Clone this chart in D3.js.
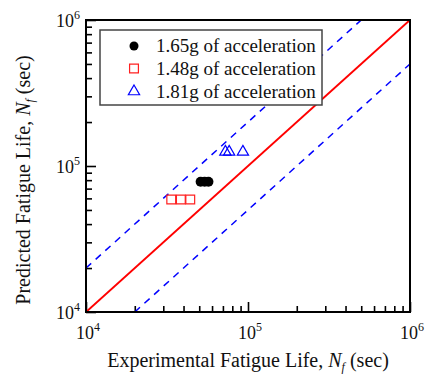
<html>
<head>
    <script src="https://d3js.org/d3.v7.min.js"></script>
    <style>
        body { margin: 0; background: #fff; }
        text { font-family: "Liberation Serif", "Times New Roman", serif; fill: #111; }
    </style>
</head>
<body>
    <svg id="chart" width="425" height="376"></svg>
    <script>
        // data
        const acc165X = [51000, 54000, 57000];
        const acc165Y = [78000, 78000, 78000];
        const acc148X = [33600, 38500, 44000];
        const acc148Y = [59000, 59000, 59000];
        const acc181X = [72500, 76500, 93000];
        const acc181Y = [125000, 125000, 125000];
        const majorTicks = [1e4, 1e5, 1e6];
        const tickExps = ["4", "5", "6"];
        const legendLabels = ["1.65g of acceleration", "1.48g of acceleration", "1.81g of acceleration"];
        const bandFactor = 2;

        const svg = d3.select("#chart");
        const margins = { top: 20, right: 15, bottom: 64, left: 86 };
        const chartWidth = 425 - margins.left - margins.right;
        const chartHeight = 376 - margins.top - margins.bottom;

        const x = d3.scaleLog().domain([1e4, 1e6]).range([0, chartWidth]);
        const y = d3.scaleLog().domain([1e4, 1e6]).range([chartHeight, 0]);

        const g = svg.append("g")
            .attr("transform", "translate(" + margins.left + "," + margins.top + ")");

        g.append("defs").append("clipPath").attr("id", "clip")
            .append("rect").attr("width", chartWidth).attr("height", chartHeight);

        let minorTicks = [];
        [1e4, 1e5].forEach(d => {
            for (let k = 2; k <= 9; k++) minorTicks.push(d * k);
        });

        // ticks (inward)
        g.append("g").attr("class", "x minor")
            .attr("transform", "translate(0," + chartHeight + ")")
            .call(d3.axisBottom(x).tickValues(minorTicks).tickSize(-6).tickFormat(""));
        g.append("g").attr("class", "x major")
            .attr("transform", "translate(0," + chartHeight + ")")
            .call(d3.axisBottom(x).tickValues(majorTicks).tickSize(-10).tickFormat(""));
        g.append("g").attr("class", "y minor")
            .call(d3.axisLeft(y).tickValues(minorTicks).tickSize(-6).tickFormat(""));
        g.append("g").attr("class", "y major")
            .call(d3.axisLeft(y).tickValues(majorTicks).tickSize(-10).tickFormat(""));
        g.selectAll(".domain").remove();
        g.selectAll(".tick line").attr("stroke", "#000").attr("stroke-width", 1.6);

        // tick labels
        majorTicks.forEach((d, i) => {
            let t = g.append("text")
                .attr("x", x(d) + 2)
                .attr("y", chartHeight + 27)
                .attr("text-anchor", "middle")
                .attr("font-size", 18);
            t.append("tspan").text("10");
            t.append("tspan").attr("font-size", 12).attr("dy", -8).text(tickExps[i]);

            let u = g.append("text")
                .attr("x", -6)
                .attr("y", y(d) + 7)
                .attr("text-anchor", "end")
                .attr("font-size", 18);
            u.append("tspan").text("10");
            u.append("tspan").attr("font-size", 12).attr("dy", -8).text(tickExps[i]);
        });

        const plot = g.append("g").attr("clip-path", "url(#clip)");

        // 1:1 line and factor-of-2 bands
        plot.append("line")
            .attr("x1", x(1e4)).attr("y1", y(1e4))
            .attr("x2", x(1e6)).attr("y2", y(1e6))
            .attr("stroke", "red").attr("stroke-width", 2);

        plot.append("line")
            .attr("x1", x(1e4)).attr("y1", y(1e4 * bandFactor))
            .attr("x2", x(1e6 / bandFactor)).attr("y2", y(1e6))
            .attr("stroke", "blue").attr("stroke-width", 1.5)
            .attr("stroke-dasharray", "7,6");

        plot.append("line")
            .attr("x1", x(1e4 * bandFactor)).attr("y1", y(1e4))
            .attr("x2", x(1e6)).attr("y2", y(1e6 / bandFactor))
            .attr("stroke", "blue").attr("stroke-width", 1.5)
            .attr("stroke-dasharray", "7,6");

        // frame
        g.append("rect")
            .attr("width", chartWidth).attr("height", chartHeight)
            .attr("fill", "none").attr("stroke", "#000").attr("stroke-width", 2);

        const sq = d3.symbol().type(d3.symbolSquare).size(78);
        const tri = d3.symbol().type(d3.symbolTriangle).size(55);

        acc148X.forEach((d, i) => {
            g.append("path").attr("d", sq)
                .attr("transform", "translate(" + x(d) + "," + y(acc148Y[i]) + ")")
                .attr("fill", "none").attr("stroke", "#ff2020").attr("stroke-width", 1.2);
        });

        acc181X.forEach((d, i) => {
            g.append("path").attr("d", tri)
                .attr("transform", "translate(" + x(d) + "," + y(acc181Y[i]) + ")")
                .attr("fill", "none").attr("stroke", "blue").attr("stroke-width", 1.2);
        });

        acc165X.forEach((d, i) => {
            g.append("circle")
                .attr("cx", x(d)).attr("cy", y(acc165Y[i]))
                .attr("r", 5).attr("fill", "#000");
        });

        // legend
        const legend = g.append("g").attr("transform", "translate(14,10)");
        legend.append("rect")
            .attr("width", 222).attr("height", 75)
            .attr("fill", "#fff").attr("stroke", "#444").attr("stroke-width", 1.5);

        const rowY = [16, 38.5, 61.5];
        legend.append("circle").attr("cx", 34).attr("cy", rowY[0]).attr("r", 4.5).attr("fill", "#000");
        legend.append("path").attr("d", sq)
            .attr("transform", "translate(34," + rowY[1] + ")")
            .attr("fill", "none").attr("stroke", "#ff2020").attr("stroke-width", 1.2);
        legend.append("path").attr("d", tri)
            .attr("transform", "translate(34," + rowY[2] + ")")
            .attr("fill", "none").attr("stroke", "blue").attr("stroke-width", 1.2);

        legendLabels.forEach((d, i) => {
            legend.append("text")
                .attr("x", 56).attr("y", rowY[i] + 6)
                .attr("font-size", 19)
                .text(d);
        });

        // axis titles
        let xt = svg.append("text")
            .attr("x", margins.left + chartWidth / 2)
            .attr("y", 367)
            .attr("text-anchor", "middle")
            .attr("font-size", 20);
        xt.append("tspan").text("Experimental Fatigue Life, ");
        xt.append("tspan").attr("font-style", "italic").text("N");
        xt.append("tspan").attr("font-style", "italic").attr("font-size", 12).attr("dy", 4).text("f");
        xt.append("tspan").attr("dy", -4).text(" (sec)");

        let yt = svg.append("text")
            .attr("transform", "translate(30,180) rotate(-90)")
            .attr("text-anchor", "middle")
            .attr("font-size", 20);
        yt.append("tspan").text("Predicted Fatigue Life, ");
        yt.append("tspan").attr("font-style", "italic").text("N");
        yt.append("tspan").attr("font-style", "italic").attr("font-size", 12).attr("dy", 4).text("f");
        yt.append("tspan").attr("dy", -4).text(" (sec)");
    </script>
</body>
</html>
